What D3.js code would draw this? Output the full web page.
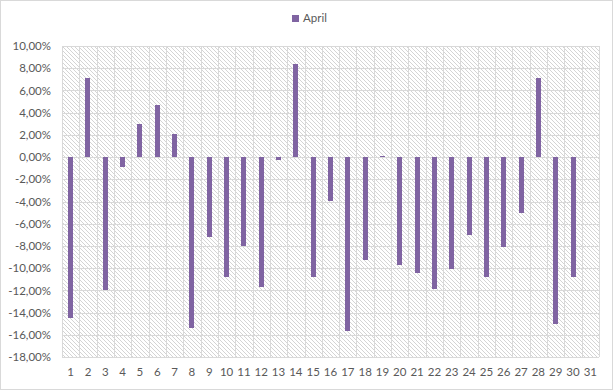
<!DOCTYPE html>
<html><head><meta charset="utf-8">
<script src="https://cdn.jsdelivr.net/npm/d3@7"></script>
<style>body{margin:0;background:#fff}svg{display:block}text{font-family:Lato,"Open Sans",sans-serif;fill:#595959}</style>
</head><body><svg id="c" width="614" height="391"></svg>
<script>
const days = d3.range(1, 32).map(String);
const seriesName = "April";
const values = [-14.5, 7.1, -12.0, -0.9, 3.0, 4.7, 2.1, -15.4, -7.2, -10.8,
  -8.0, -11.7, -0.3, 8.4, -10.8, -4.0, -15.7, -9.3, 0.1, -9.7,
  -10.4, -11.9, -10.1, -7.0, -10.8, -8.1, -5.0, 7.1, -15.0, -10.8, null];
const yTicks = [10, 8, 6, 4, 2, 0, -2, -4, -6, -8, -10, -12, -14, -16, -18];

const svg = d3.select("#c");
const W = 614, H = 391;
const m = {l: 62, r: 599, t: 46, b: 357};
const color = "#8064A2";

svg.append("rect").attr("x", 0.5).attr("y", 0.5).attr("width", W - 2).attr("height", H - 2)
  .attr("fill", "#fff").attr("stroke", "#d9d9d9");

const defs = svg.append("defs");
const pat = defs.append("pattern").attr("id", "hatch").attr("patternUnits", "userSpaceOnUse")
  .attr("width", 4).attr("height", 4).attr("x", m.l).attr("y", m.t);
pat.append("rect").attr("width", 4).attr("height", 4).attr("fill", "#fff");
for (let i = 0; i < 4; i++) pat.append("rect").attr("x", i).attr("y", i).attr("width", 1).attr("height", 1).attr("fill", "#d4d4d4");

const x = d3.scaleBand().domain(days).range([m.l, m.r]);
const y = d3.scaleLinear().domain([-18, 10]).range([m.b, m.t]);

svg.append("rect").attr("x", m.l).attr("y", m.t).attr("width", m.r - m.l).attr("height", m.b - m.t)
  .attr("fill", "url(#hatch)");

const g = svg.append("g").attr("shape-rendering", "crispEdges");
g.selectAll("line.h").data(yTicks).join("line").attr("class", "h")
  .attr("x1", m.l).attr("x2", m.r)
  .attr("y1", d => Math.round(y(d)) + 0.5).attr("y2", d => Math.round(y(d)) + 0.5)
  .attr("stroke", "#d9d9d9").attr("stroke-width", 1);
const vb = days.map(d => x(d)).concat([m.r]);
g.selectAll("line.v").data(vb).join("line").attr("class", "v")
  .attr("y1", m.t).attr("y2", m.b)
  .attr("x1", d => Math.round(d) + 0.5).attr("x2", d => Math.round(d) + 0.5)
  .attr("stroke", "#d9d9d9").attr("stroke-width", 1);

const bw = 5;
g.selectAll("rect.bar").data(values.map((v, i) => ({d: days[i], v})).filter(o => o.v !== null))
  .join("rect").attr("class", "bar")
  .attr("x", o => Math.round(x(o.d) + x.bandwidth() / 2 - bw / 2))
  .attr("width", bw)
  .attr("y", o => Math.round(Math.min(y(o.v), y(0))))
  .attr("height", o => Math.max(1, Math.round(Math.abs(y(o.v) - y(0)))))
  .attr("fill", color);

const fmt = v => (v < 0 ? "-" : "") + Math.abs(v).toFixed(2).replace(".", ",") + "%";
const yAxis = d3.axisLeft(y).tickValues(yTicks).tickFormat(fmt).tickSize(0).tickPadding(11);
const ya = svg.append("g").attr("transform", `translate(${m.l},0)`).call(yAxis);
ya.select(".domain").remove();
ya.selectAll("text").attr("font-size", 11.5).style("font-family", "Lato,sans-serif").attr("fill", "#595959");

const xAxis = d3.axisBottom(x).tickSize(0).tickPadding(11);
const xa = svg.append("g").attr("transform", `translate(0,${m.b})`).call(xAxis);
xa.select(".domain").remove();
xa.selectAll("text").attr("font-size", 11.5).style("font-family", "Lato,sans-serif").attr("fill", "#595959");

const lg = svg.append("g");
lg.append("rect").attr("x", 292).attr("y", 15).attr("width", 7).attr("height", 7).attr("fill", color);
lg.append("text").attr("x", 303).attr("y", 22).attr("font-size", 11.5).text(seriesName);
</script></body></html>
